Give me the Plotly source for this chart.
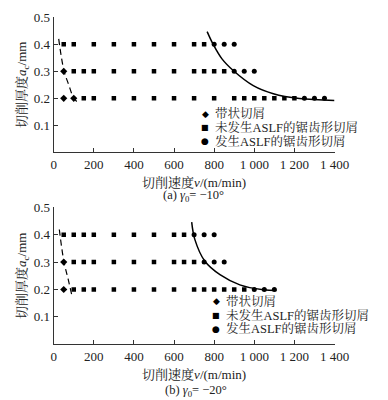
import plotly.graph_objects as go

# ---------------- data: (a) gamma0 = -10 deg ----------------
a_band_x = [50, 50, 100]
a_band_y = [0.3, 0.2, 0.2]
a_sq_x = [50, 100, 200, 300, 400, 500, 600, 700, 750,
          100, 150, 200, 300, 400, 500, 600, 700, 750, 800, 850,
          150, 200, 300, 400, 500, 600, 700, 800, 900, 950, 1000, 1050, 1100, 1150, 1200]
a_sq_y = [0.4] * 9 + [0.3] * 11 + [0.2] * 15
a_ci_x = [800, 850, 900, 900, 950, 1000, 1250, 1300, 1350]
a_ci_y = [0.4, 0.4, 0.4, 0.3, 0.3, 0.3, 0.2, 0.2, 0.2]
a_solid_x = [765, 795, 840, 895, 995, 1095, 1225, 1400]
a_solid_y = [0.447, 0.40, 0.345, 0.303, 0.247, 0.217, 0.199, 0.192]
a_dash_x = [25, 51, 75, 98, 128]
a_dash_y = [0.42, 0.303, 0.25, 0.204, 0.178]

# ---------------- data: (b) gamma0 = -20 deg ----------------
b_band_x = [50, 50]
b_band_y = [0.3, 0.2]
b_sq_x = [50, 100, 150, 200, 300, 400, 500, 600, 650,
          100, 150, 200, 300, 400, 500, 600, 650, 700,
          100, 150, 200, 300, 400, 500, 600, 700, 750, 800, 850, 900, 950]
b_sq_y = [0.4] * 9 + [0.3] * 9 + [0.2] * 13
b_ci_x = [700, 750, 800, 750, 800, 850, 1000, 1050, 1100]
b_ci_y = [0.4, 0.4, 0.4, 0.3, 0.3, 0.3, 0.2, 0.2, 0.2]
b_solid_x = [688, 704, 754, 829, 928, 1044, 1111]
b_solid_y = [0.446, 0.382, 0.303, 0.254, 0.217, 0.199, 0.196]
b_dash_x = [28, 51, 73, 90]
b_dash_y = [0.419, 0.302, 0.235, 0.18]

x_tickvals = [0, 200, 400, 600, 800, 1000, 1200, 1400]
x_ticktext = ["0", "200", "400", "600", "800", "1 000", "1 200", "1 400"]
y_tickvals = [0.1, 0.2, 0.3, 0.4, 0.5]
y_ticktext = ["0.1", "0.2", "0.3", "0.4", "0.5"]
legend_names = ["带状切屑", "未发生ASLF的锯齿形切屑", "发生ASLF的锯齿形切屑"]

FONT = "Liberation Serif, Noto Serif CJK SC, Noto Sans CJK SC, serif"
W, H = 388, 400

fig = go.Figure()

def add_panel(xa, ya, band_x, band_y, sq_x, sq_y, ci_x, ci_y, sx, sy, dx, dy):
    kw = dict(xaxis=xa, yaxis=ya, showlegend=False)
    fig.add_trace(go.Scatter(x=dx, y=dy, mode="lines", line=dict(color="black", width=1.2, dash="6px,4px", shape="spline"), **kw))
    fig.add_trace(go.Scatter(x=sx, y=sy, mode="lines", line=dict(color="black", width=1.5, shape="spline"), **kw))
    fig.add_trace(go.Scatter(x=sq_x, y=sq_y, mode="markers", name=legend_names[1], marker=dict(symbol="square", size=4.5, color="black"), **kw))
    fig.add_trace(go.Scatter(x=ci_x, y=ci_y, mode="markers", name=legend_names[2], marker=dict(symbol="circle", size=5, color="black"), **kw))
    fig.add_trace(go.Scatter(x=band_x, y=band_y, mode="markers", name=legend_names[0], marker=dict(symbol="diamond", size=5.5, color="black"), **kw))

add_panel("x", "y", a_band_x, a_band_y, a_sq_x, a_sq_y, a_ci_x, a_ci_y, a_solid_x, a_solid_y, a_dash_x, a_dash_y)
add_panel("x2", "y2", b_band_x, b_band_y, b_sq_x, b_sq_y, b_ci_x, b_ci_y, b_solid_x, b_solid_y, b_dash_x, b_dash_y)

xdom = [53.7 / W, 334.5 / W]
def xaxis(anchor):
    return dict(domain=xdom, range=[0, 1400], anchor=anchor, showline=True, linecolor="#333", linewidth=1,
                ticks="inside", ticklen=4, tickcolor="#333", tickvals=x_tickvals, ticktext=x_ticktext,
                showgrid=False, zeroline=False, tickfont=dict(size=13, color="#222"), automargin=False,
                title=dict(text="切削速度<i>v</i>/(m/min)", font=dict(size=13, color="#222"), standoff=6))
def yaxis(anchor, dom):
    return dict(domain=dom, range=[0, 0.5], anchor=anchor, showline=True, linecolor="#333", linewidth=1,
                ticks="inside", ticklen=4, tickcolor="#333", tickvals=y_tickvals, ticktext=y_ticktext,
                showgrid=False, zeroline=False, tickfont=dict(size=13, color="#222"), automargin=False,
                title=dict(text="切削厚度<i>a</i><sub>c</sub>/mm", font=dict(size=13, color="#222"), standoff=4))

fig.update_layout(
    width=W, height=H, margin=dict(l=0, r=0, t=0, b=0, autoexpand=False),
    paper_bgcolor="white", plot_bgcolor="white",
    font=dict(family=FONT, color="#222"),
    xaxis=xaxis("y"), yaxis=yaxis("x", [1 - 152.3 / H, 1 - 17.3 / H]),
    xaxis2=xaxis("y2"), yaxis2=yaxis("x2", [1 - 344.3 / H, 1 - 207.3 / H]),
)

ann = []
# captions
ann.append(dict(text="(a) <i>γ</i><sub>0</sub>= −10°", x=193 / W, y=1 - 196 / H, xref="paper", yref="paper",
                showarrow=False, font=dict(size=12.5, color="#222"), xanchor="center", yanchor="middle"))
ann.append(dict(text="(b) <i>γ</i><sub>0</sub>= −20°", x=196 / W, y=1 - 391 / H, xref="paper", yref="paper",
                showarrow=False, font=dict(size=12.5, color="#222"), xanchor="center", yanchor="middle"))

# legends
glyphs = ["◆", "■", "●"]
glyph_sizes = [9, 8, 9]
def add_legend(gx, tx, rows):
    for g, gs, name, ry in zip(glyphs, glyph_sizes, legend_names, rows):
        ann.append(dict(text=g, x=gx / W, y=1 - ry / H, xref="paper", yref="paper", showarrow=False,
                        font=dict(size=gs, color="black", family="DejaVu Sans"), xanchor="center", yanchor="middle"))
        ann.append(dict(text=name, x=tx / W, y=1 - ry / H, xref="paper", yref="paper", showarrow=False,
                        font=dict(size=12.5, color="#222"), xanchor="left", yanchor="middle"))

add_legend(205, 213, [114, 127.5, 141])
add_legend(216, 224, [301, 315, 328.5])
fig.update_layout(annotations=ann)

fig.write_html("out.html", config={"displayModeBar": False},
               post_script="document.body.style.margin='0px';document.body.style.overflow='hidden';")
